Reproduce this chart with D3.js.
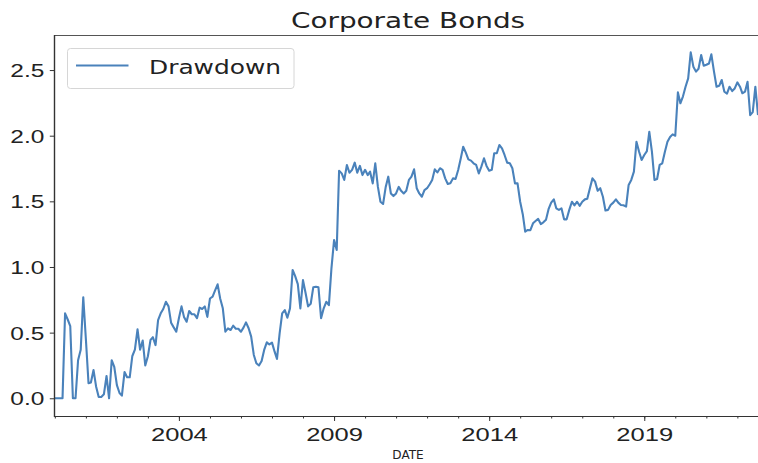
<!DOCTYPE html>
<html lang="en">
<head>
<meta charset="UTF-8">
<title>Corporate Bonds</title>
<script src="https://d3js.org/d3.v7.min.js"></script>
<style>
  body { margin: 0; background: #fff; }
  svg { display: block; font-family: "DejaVu Sans", sans-serif; }
  .tick line { stroke: #333; }
  .tick text { fill: #222; }
</style>
</head>
<body>
<div id="chart"></div>
<script>
// monthly drawdown, starting Jan 2000 (one row per year)
const startMonth = new Date(2000, 0, 1);
const drawdown = [
  0, 0, 0, 0, 0.647, 0.60, 0.55, 0, 0, 0.29, 0.37, 0.77,
  0.45, 0.114, 0.12, 0.215, 0.09, 0.01, 0.01, 0.03, 0.17, 0, 0.29, 0.24,
  0.10, 0.04, 0.02, 0.20, 0.16, 0.16, 0.32, 0.37, 0.525, 0.37, 0.44, 0.25,
  0.32, 0.445, 0.465, 0.405, 0.596, 0.647, 0.68, 0.735, 0.70, 0.576, 0.54, 0.507,
  0.61, 0.70, 0.62, 0.583, 0.665, 0.64, 0.64, 0.61, 0.69, 0.68, 0.70, 0.62,
  0.76, 0.774, 0.82, 0.868, 0.76, 0.685, 0.507, 0.533, 0.52, 0.553, 0.53, 0.53,
  0.507, 0.54, 0.578, 0.533, 0.47, 0.33, 0.267, 0.25, 0.284, 0.368, 0.426, 0.41,
  0.424, 0.355, 0.30, 0.495, 0.647, 0.672, 0.614, 0.685, 0.977, 0.93, 0.87, 0.685,
  0.90, 0.80, 0.70, 0.72, 0.845, 0.85, 0.845, 0.61, 0.685, 0.735, 0.71, 0.99,
  1.205, 1.13, 1.733, 1.713, 1.663, 1.777, 1.718, 1.74, 1.795, 1.718, 1.77, 1.70,
  1.74, 1.70, 1.726, 1.637, 1.79, 1.61, 1.497, 1.48, 1.61, 1.688, 1.56, 1.54,
  1.56, 1.61, 1.58, 1.56, 1.58, 1.663, 1.688, 1.744, 1.60, 1.56, 1.535, 1.586,
  1.60, 1.63, 1.663, 1.744, 1.72, 1.752, 1.74, 1.675, 1.632, 1.637, 1.675, 1.67,
  1.739, 1.828, 1.916, 1.871, 1.82, 1.81, 1.79, 1.777, 1.713, 1.764, 1.828, 1.77,
  1.733, 1.74, 1.866, 1.866, 1.929, 1.904, 1.853, 1.795, 1.79, 1.752, 1.637, 1.637,
  1.497, 1.40, 1.269, 1.282, 1.28, 1.333, 1.35, 1.366, 1.327, 1.34, 1.36, 1.44,
  1.49, 1.515, 1.447, 1.435, 1.447, 1.363, 1.363, 1.435, 1.497, 1.47, 1.497, 1.466,
  1.497, 1.515, 1.52, 1.60, 1.675, 1.65, 1.58, 1.60, 1.535, 1.43, 1.435, 1.472,
  1.49, 1.515, 1.49, 1.472, 1.47, 1.46, 1.625, 1.663, 1.726, 1.954, 1.878, 1.815,
  1.853, 1.883, 2.03, 1.878, 1.663, 1.67, 1.777, 1.79, 1.878, 1.954, 1.99, 2.01,
  2.0, 2.33, 2.247, 2.30, 2.373, 2.437, 2.635, 2.526, 2.488, 2.51, 2.615, 2.533,
  2.54, 2.55, 2.62, 2.488, 2.373, 2.38, 2.424, 2.335, 2.32, 2.373, 2.34, 2.36,
  2.406, 2.373, 2.323, 2.335, 2.411, 2.157, 2.18, 2.373, 2.157
];
const yTicks = [0, 0.5, 1.0, 1.5, 2.0, 2.5];
const labelYears = [2004, 2009, 2014, 2019];
const minorYears = d3.range(2000, 2023);
const chartTitle = "Corporate Bonds";
const seriesName = "Drawdown";
const xTitle = "DATE";

const width = 758, height = 463;
const plot = {left: 54.8, right: 758, top: 35, bottom: 416};
const lineColor = "#4a82bb";

const data = drawdown.map((v, i) => ({date: d3.timeMonth.offset(startMonth, i), value: v}));

const svg = d3.select("#chart").append("svg")
    .attr("width", width)
    .attr("height", height);

const x = d3.scaleTime()
    .domain([data[0].date, data[data.length - 1].date])
    .range([plot.left, plot.right]);
const y = d3.scaleLinear()
    .domain([-0.135, 2.767])
    .range([plot.bottom, plot.top]);

svg.append("clipPath").attr("id", "clip")
  .append("rect")
    .attr("x", plot.left).attr("y", plot.top)
    .attr("width", plot.right - plot.left).attr("height", plot.bottom - plot.top);

// minor year ticks
svg.append("g")
    .attr("transform", "translate(0," + plot.bottom + ")")
    .call(d3.axisBottom(x).tickValues(minorYears.map(yr => new Date(yr, 0, 1))).tickSize(2.5).tickFormat(""))
    .call(g => g.select(".domain").remove());

// labelled years
const xAxis = svg.append("g")
    .attr("transform", "translate(0," + plot.bottom + ")")
    .attr("font-size", null).attr("font-family", null)
    .call(d3.axisBottom(x).tickValues(labelYears.map(yr => new Date(yr, 0, 1))).tickSize(5).tickFormat(d3.timeFormat("%Y")))
    .call(g => g.select(".domain").remove());
xAxis.selectAll("text")
    .attr("y", 24.8).attr("dy", 0)
    .attr("font-size", 18)
    .attr("transform", "scale(1.42,1)");

const yAxis = svg.append("g")
    .attr("transform", "translate(" + plot.left + ",0)")
    .attr("font-size", null).attr("font-family", null)
    .call(d3.axisLeft(y).tickValues(yTicks).tickSize(5).tickFormat(d3.format(".1f")))
    .call(g => g.select(".domain").remove());
yAxis.selectAll("text")
    .attr("x", -10.5 / 1.36).attr("dy", "0.36em")
    .attr("font-size", 18)
    .attr("transform", "scale(1.36,1)");

// data line
svg.append("path")
    .datum(data)
    .attr("clip-path", "url(#clip)")
    .attr("fill", "none")
    .attr("stroke", lineColor)
    .attr("stroke-width", 2.1)
    .attr("stroke-linejoin", "round")
    .attr("d", d3.line().x(d => x(d.date)).y(d => y(d.value)));

// spines
svg.append("line").attr("x1", plot.left).attr("x2", plot.right).attr("y1", plot.top + 0.5).attr("y2", plot.top + 0.5)
    .attr("stroke", "#555").attr("stroke-width", 1);
svg.append("line").attr("x1", plot.left).attr("x2", plot.right).attr("y1", plot.bottom + 0.5).attr("y2", plot.bottom + 0.5)
    .attr("stroke", "#333").attr("stroke-width", 1.2);
svg.append("line").attr("x1", plot.left - 0.3).attr("x2", plot.left - 0.3).attr("y1", plot.top).attr("y2", plot.bottom + 1)
    .attr("stroke", "#333").attr("stroke-width", 1.4);

// title
svg.append("text")
    .attr("transform", "translate(408,28) scale(1.36,1)")
    .attr("text-anchor", "middle")
    .attr("font-size", 20.5)
    .attr("fill", "#222")
    .text(chartTitle);

// x axis label
svg.append("text")
    .attr("transform", "translate(408,459) scale(1.05,1)")
    .attr("text-anchor", "middle")
    .attr("font-size", 11.5)
    .attr("fill", "#222")
    .text(xTitle);

// legend
const legend = svg.append("g");
legend.append("rect")
    .attr("x", 67.5).attr("y", 48.5)
    .attr("width", 226.5).attr("height", 40)
    .attr("rx", 3)
    .attr("fill", "#fff").attr("fill-opacity", 0.8)
    .attr("stroke", "#d6d6d6");
legend.append("line")
    .attr("x1", 76).attr("x2", 128.5)
    .attr("y1", 65.5).attr("y2", 65.5)
    .attr("stroke", lineColor).attr("stroke-width", 2.1);
legend.append("text")
    .attr("transform", "translate(149,73.5) scale(1.31,1)")
    .attr("font-size", 19)
    .attr("fill", "#222")
    .text(seriesName);
</script>
</body>
</html>
